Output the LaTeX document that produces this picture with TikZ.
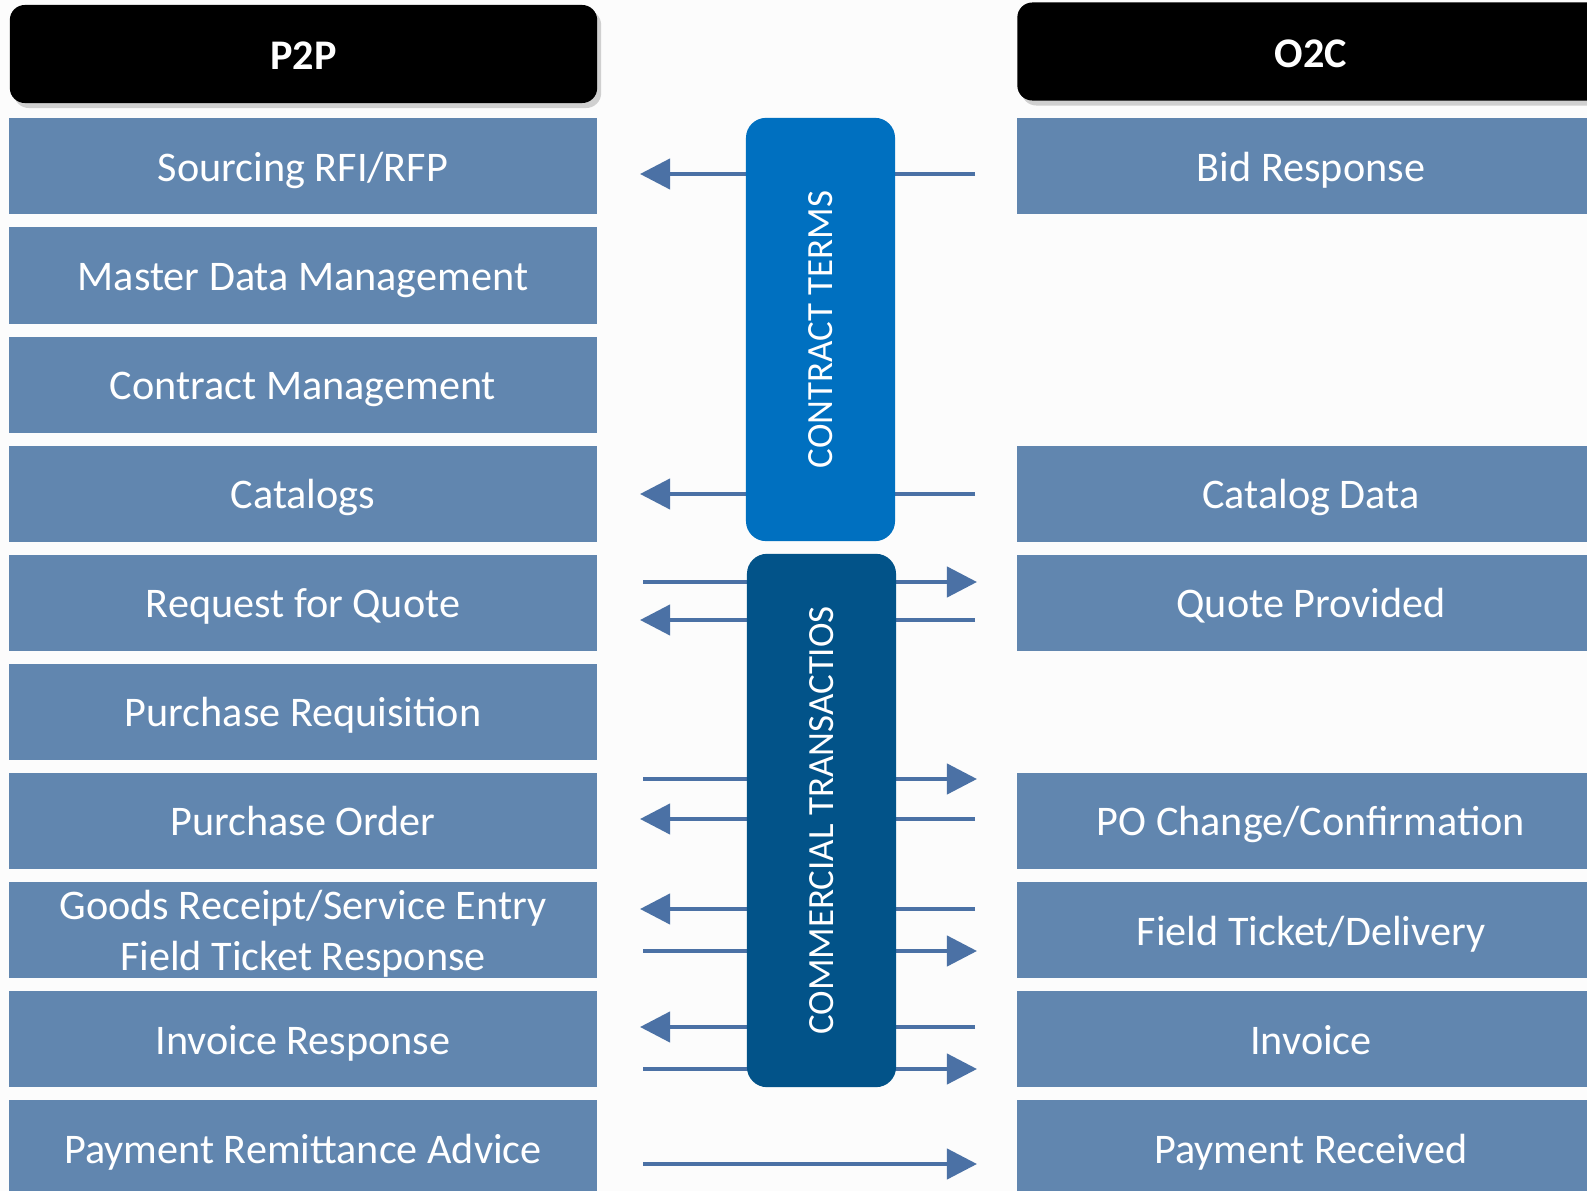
\documentclass[tikz,border=0pt]{standalone}
\usepackage{fontspec}
\setmainfont{Carlito}
\usetikzlibrary{arrows.meta,shadows}

\definecolor{rowblue}{HTML}{6186AF}
\definecolor{flowblue}{HTML}{4B71A5}
\definecolor{termsblue}{HTML}{0070C0}
\definecolor{transblue}{HTML}{025389}

\tikzset{
  stage/.style={fill=rowblue, text=white, inner sep=0pt, minimum width=5.88cm, minimum height=0.96cm,
    align=center, font=\fontsize{12}{14.5}\selectfont},
  single/.style={text height=8.5pt, text depth=0pt},
  double/.style={text height=23pt, text depth=0pt},
  header/.style={fill=black, text=white, rounded corners=0.15cm, inner sep=0pt, minimum width=5.87cm,
    minimum height=0.98cm, font=\fontsize{12}{14}\selectfont\bfseries, text height=9pt, text depth=0pt,
    drop shadow={shadow xshift=0.04cm, shadow yshift=-0.05cm, opacity=0.35}},
  band/.style={rounded corners=0.2cm, text=white, inner sep=0pt, rotate=90, minimum height=1.49cm,
    font=\fontsize{10.5}{12}\selectfont},
  flow/.style={draw=flowblue, line width=1.2pt, -{Triangle[length=0.3cm,width=0.3cm]}}
}

\begin{document}
\begin{tikzpicture}[x=0.01cm, y=-0.01cm]
\useasboundingbox (0,0) rectangle (1587,1191);
\clip (0,0) rectangle (1587,1191);
\fill[black!1] (0,0) rectangle (1587,1191);

% headers
\node[header] (p2p) at (303.5,54) {P2P};
\node[header] (o2c) at (1311,51.5) {O2C};

% buyer side
\foreach \i/\txt/\kind in {1/{Sourcing RFI/RFP}/single, 2/{Master Data Management}/single,
    3/{Contract Management}/single, 4/{Catalogs}/single, 5/{Request for Quote}/single,
    6/{Purchase Requisition}/single, 7/{Purchase Order}/single,
    8/{Goods Receipt/Service Entry\\Field Ticket Response}/double, 9/{Invoice Response}/single,
    10/{Payment Remittance Advice}/single}
  \node[stage,\kind] (p\i) at (303, 57.3+109.1*\i) {\txt};

% supplier side
\foreach \i/\txt in {1/{Bid Response}, 4/{Catalog Data}, 5/{Quote Provided},
    7/{PO Change/Confirmation}, 8/{Field Ticket/Delivery}, 9/{Invoice}, 10/{Payment Received}}
  \node[stage,single] (o\i) at (1311, 57.3+109.1*\i) {\txt};

% messages
\foreach \y/\xa/\xb [count=\k] in {174/975/640, 494/975/640, 582/643/977, 620/975/640,
    779/643/977, 819/975/640, 909/975/640, 951/643/977, 1027/975/640, 1069/643/977,
    1164/643/977} {
  \coordinate (from\k) at (\xa,\y);
  \coordinate (to\k) at (\xb,\y);
  \draw[flow] (from\k) -- (to\k);
}

\node[band, fill=termsblue, minimum width=4.23cm] (terms) at (820.5,329.5) {CONTRACT TERMS};
\node[band, fill=transblue, minimum width=5.33cm] (trans) at (821.5,820.5) {COMMERCIAL TRANSACTIOS};
\end{tikzpicture}
\end{document}
